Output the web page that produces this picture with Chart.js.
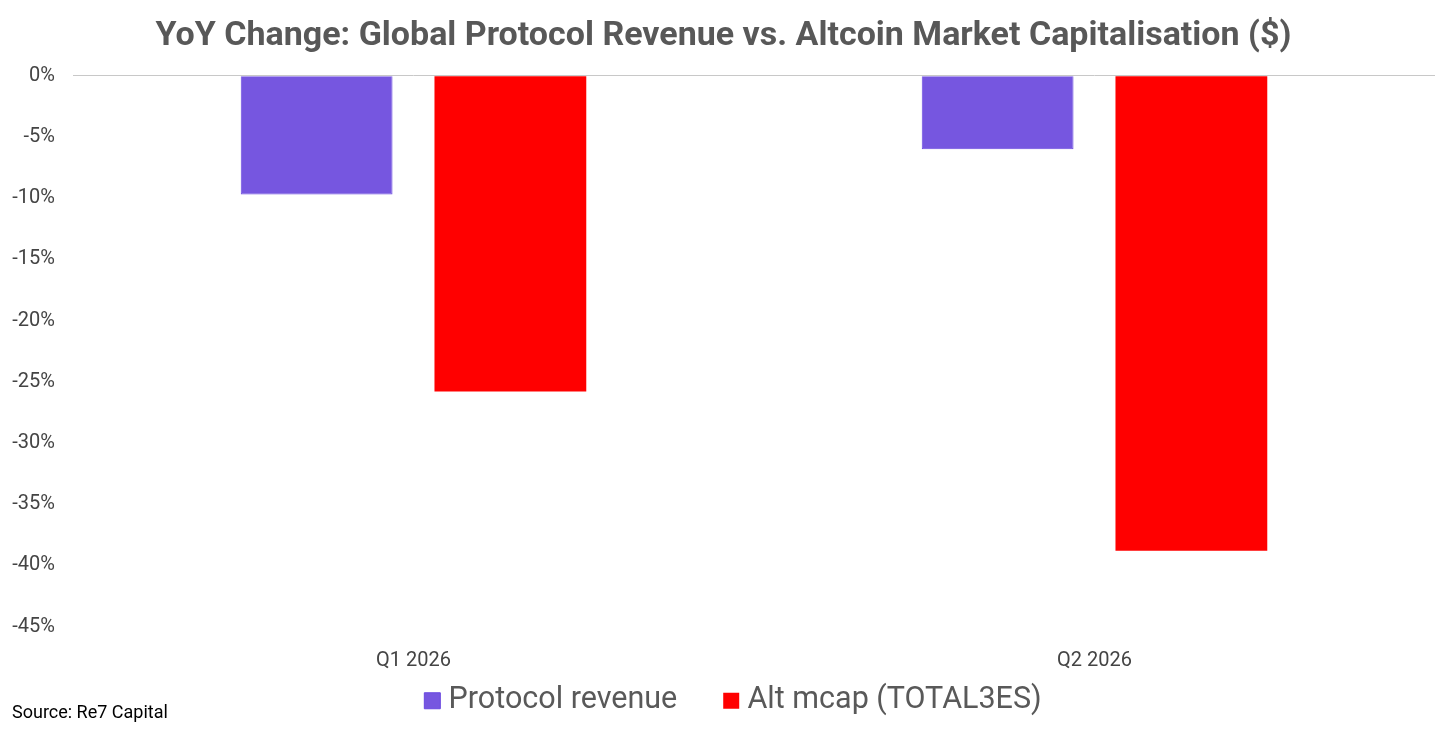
<!DOCTYPE html>
<html>
<head>
<meta charset="utf-8">
<script src="https://cdn.jsdelivr.net/npm/chart.js@4.4.1/dist/chart.umd.min.js"></script>
<style>
html,body{margin:0;padding:0;background:#fff;}
#wrap{position:relative;width:1456px;height:732px;}
#source{position:absolute;left:12px;top:701px;font-family:Roboto,sans-serif;font-size:18px;color:#000;}
</style>
</head>
<body>
<div id="wrap"><canvas id="c" width="1456" height="732"></canvas><div id="source">Source: Re7 Capital</div></div>
<script>
const categories = ["Q1 2026", "Q2 2026"];
const protocolRevenue = [-9.7, -6.0];
const altMcap = [-25.8, -38.8];
const seriesNames = ["Protocol revenue", "Alt mcap (TOTAL3ES)"];
const titleText = "YoY Change: Global Protocol Revenue vs. Altcoin Market Capitalisation ($)";

const legendShift = {
  id: 'legendShift',
  afterLayout(chart) { chart.legend.left += 13; chart.legend.right += 13; }
};

new Chart(document.getElementById('c'), {
  type: 'bar',
  data: {
    labels: categories,
    datasets: [
      {label: seriesNames[0], data: protocolRevenue, backgroundColor: '#7656E0', borderColor: '#6a48e0', borderWidth: 1, categoryPercentage: 0.569, barPercentage: 0.7835},
      {label: seriesNames[1], data: altMcap, backgroundColor: '#FF0000', borderWidth: 0, categoryPercentage: 0.569, barPercentage: 0.7835}
    ]
  },
  plugins: [legendShift],
  options: {
    responsive: false,
    animation: false,
    layout: {padding: {left: 12, right: 21, top: 0, bottom: 6}},
    plugins: {
      title: {display: true, text: titleText, color: '#585858', font: {family: 'Roboto', size: 34, weight: 'bold'}, padding: {top: 16, bottom: 19}},
      legend: {
        position: 'bottom',
        labels: {
          color: '#595959', font: {family: 'Roboto', size: 30.5}, usePointStyle: true, pointStyle: 'rect', boxWidth: 2, boxHeight: 16, padding: 12,
          generateLabels: chart => Chart.defaults.plugins.legend.labels.generateLabels(chart).map(l => Object.assign(l, {pointStyle: 'rect', text: l.text + (l.datasetIndex === 0 ? '     \u200A' : '')}))
        }
      },
      tooltip: {enabled: false}
    },
    scales: {
      x: {
        grid: {display: false},
        border: {display: false},
        ticks: {color: '#444', font: {family: 'Roboto', size: 20}, padding: 14},
        afterFit: s => { s.height = 47; }
      },
      y: {
        min: -45, max: 0,
        border: {display: false},
        grid: {color: ctx => ctx.tick && ctx.tick.value === 0 ? '#c8c8c8' : 'rgba(0,0,0,0)', drawTicks: false},
        ticks: {stepSize: 5, color: '#444', font: {family: 'Roboto', size: 20}, padding: 18, callback: v => v + '%'},
        afterFit: s => { s.width = 61; }
      }
    }
  }
});
</script>
</body>
</html>
